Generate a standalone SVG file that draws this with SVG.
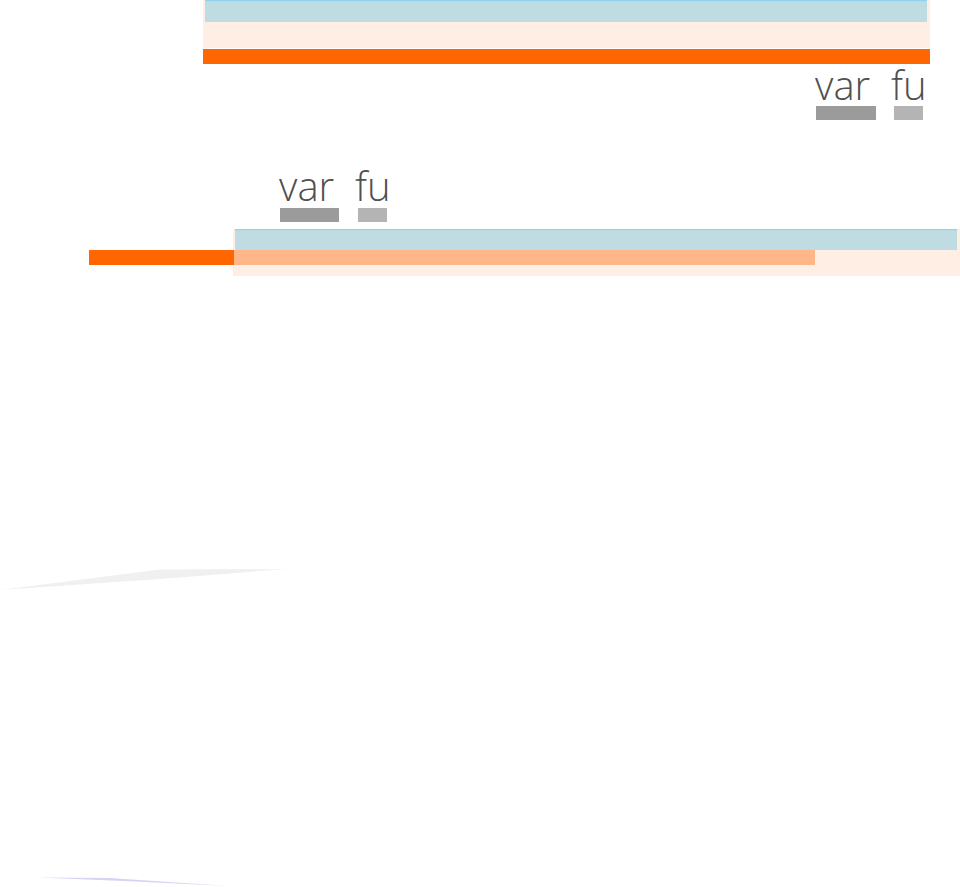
<svg xmlns="http://www.w3.org/2000/svg" width="960" height="887" viewBox="0 0 960 887">
<style>
.peach{fill:#FFEEE4}
.blue{fill:#BEDCE1}
.blueline{fill:#8FD3EE}
.orange{fill:#FF6600}
.lorange{fill:#FFB78A}
.lbl{font-family:"Open Sans","Liberation Sans",sans-serif;font-weight:300;font-size:40px;fill:#505050}
.dg{fill:#9B9B9B}
.lg{fill:#B4B4B4}
</style>
<rect width="960" height="887" fill="#ffffff"/>
<g id="top-track">
  <rect class="peach" x="203" y="0" width="727" height="48"/>
  <rect class="blue" x="205" y="0" width="722" height="22"/>
  <rect class="blueline" x="205" y="0" width="722" height="1.2"/>
  <rect class="orange" x="203" y="49" width="727" height="15"/>
</g>
<g id="top-legend">
  <text class="lbl" x="815" y="100">var</text>
  <text class="lbl" x="891" y="100">fu</text>
  <rect class="dg" x="816" y="106" width="60" height="14"/>
  <rect class="lg" x="894" y="106" width="29" height="14"/>
</g>
<g id="bottom-legend">
  <text class="lbl" x="279" y="201">var</text>
  <text class="lbl" x="355" y="201">fu</text>
  <rect class="dg" x="280" y="208" width="59" height="14"/>
  <rect class="lg" x="358" y="208" width="29" height="14"/>
</g>
<g id="bottom-track">
  <rect class="peach" x="233" y="229" width="727" height="47"/>
  <rect class="blue" x="235" y="229" width="722" height="21"/>
  <rect class="blueline" x="235" y="229" width="722" height="1.2"/>
  <rect class="orange" x="89" y="250" width="145" height="15"/>
  <rect class="lorange" x="234" y="250" width="581" height="15"/>
</g>
<g id="connectors">
  <polygon points="0,590 160,569.5 287,569 160,579" fill="#F0F0F0"/>
  <polygon points="38,877.6 110,878 228,886 130,881.2" fill="#D4D4F4"/>
</g>
</svg>
